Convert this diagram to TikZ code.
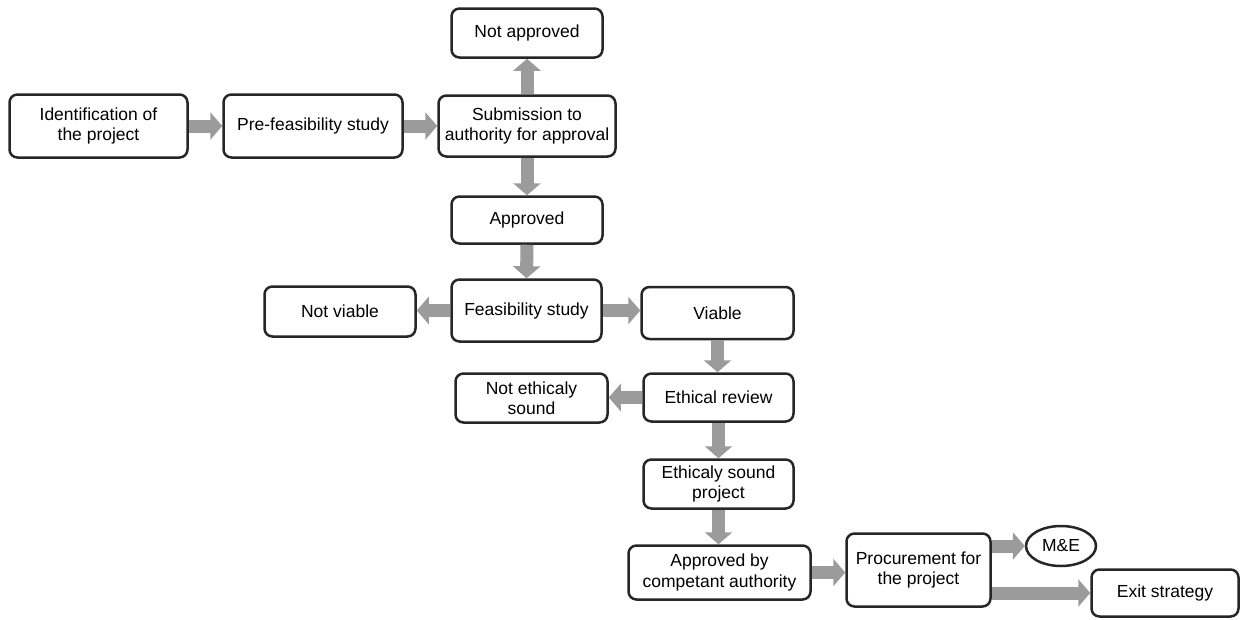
\documentclass[tikz,border=0pt]{standalone}
\usepackage{fontspec}
\setmainfont{Liberation Sans}
\usetikzlibrary{arrows.meta,shapes.geometric,calc}
\definecolor{boxline}{HTML}{262626}
\definecolor{flowgray}{HTML}{9B9B9B}
\begin{document}
\begin{tikzpicture}[x=1pt,y=-1pt,
  every node/.style={font=\fontsize{17.5}{20.5}\selectfont, align=center, inner sep=0pt},
  stepbox/.style={draw=boxline, line width=2.5pt, rounded corners=8pt, fill=white},
  ovalbox/.style={draw=boxline, line width=2.5pt, ellipse, fill=white},
  flow/.style={draw=flowgray, line width=13pt,
    -{Triangle[width=27pt,length=12pt]}, flowgray}]
\useasboundingbox (0,0) rectangle (1242,619);

% top row
\node[stepbox, minimum width=178pt, minimum height=63pt] (ident) at (98.5,126) {Identification of\\the project};
\node[stepbox, minimum width=179pt, minimum height=63pt] (pre) at (313,126) {Pre-feasibility study};
\node[stepbox, minimum width=177pt, minimum height=61pt] (sub) at (527,126) {Submission to\\authority for approval};
\node[stepbox, minimum width=151pt, minimum height=49pt] (notapp) at (527,33) {Not approved};
\node[stepbox, minimum width=151pt, minimum height=47pt] (app) at (527,220) {Approved};

% feasibility level
\node[stepbox, minimum width=150pt, minimum height=62pt] (feas) at (526.5,310.5) {Feasibility study};
\node[stepbox, minimum width=151pt, minimum height=50pt] (notviable) at (340,311.5) {Not viable};
\node[stepbox, minimum width=152pt, minimum height=52pt] (viable) at (717.5,313) {Viable};

% ethics level
\node[stepbox, minimum width=150pt, minimum height=48pt] (ethical) at (718.5,397.5) {Ethical review};
\node[stepbox, minimum width=152pt, minimum height=49pt] (notethical) at (531.5,398) {Not ethicaly\\sound};
\node[stepbox, minimum width=150pt, minimum height=49pt] (sound) at (718.5,484) {Ethicaly sound\\project};

% final stage
\node[stepbox, minimum width=182pt, minimum height=54pt] (comp) at (719.5,572.5) {Approved by\\competant authority};
\node[stepbox, minimum width=144pt, minimum height=73pt] (proc) at (918.5,570) {Procurement for\\the project};
\node[ovalbox, minimum width=70pt, minimum height=40pt] (me) at (1061,546) {M\&E};
\node[stepbox, minimum width=147pt, minimum height=47pt] (exit) at (1165,593) {Exit strategy};

% connectors
\draw[flow] (ident.east) -- (pre.west);
\draw[flow] (pre.east) -- (sub.west);
\draw[flow] (sub.north) -- (notapp.south);
\draw[flow] (sub.south) -- (app.north);
\draw[flow] (app.south) -- (feas.north);
\draw[flow] (feas.west) -- (feas.west -| notviable.east);
\draw[flow] (feas.east) -- (feas.east -| viable.west);
\draw[flow] (viable.south) -- (viable.south |- ethical.north);
\draw[flow] (ethical.west) -- (ethical.west -| notethical.east);
\draw[flow] (ethical.south) -- (sound.north);
\draw[flow] (sound.south) -- (sound.south |- comp.north);
\draw[flow] (comp.east) -- (comp.east -| proc.west);
\draw[flow] (proc.east |- me) -- (me.west);
\draw[flow] (proc.east |- exit) -- (exit.west);
\end{tikzpicture}
\end{document}
